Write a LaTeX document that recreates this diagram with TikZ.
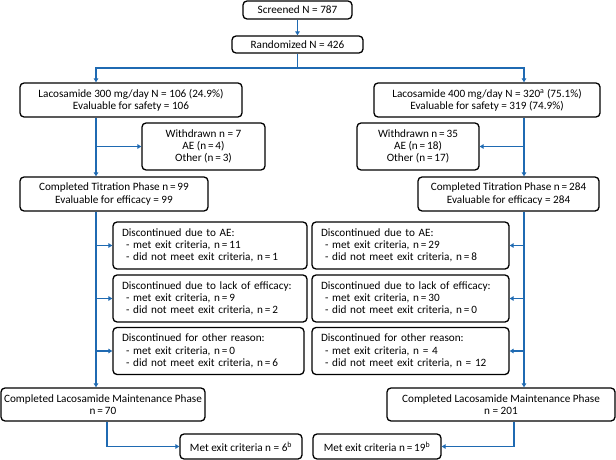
\documentclass[tikz,border=0pt]{standalone}
\usepackage{fontspec}
\setmainfont{Carlito}
\usetikzlibrary{arrows.meta}
\definecolor{flowblue}{RGB}{31,106,178}

\tikzset{
	box/.style={draw, rounded corners=4pt, line width=1.3pt, inner sep=0pt, align=center,
		font=\fontsize{11.2}{12.3}\selectfont},
	listbox/.style={box, align=left, inner xsep=9pt, minimum height=47pt},
	link/.style={draw=flowblue, line width=1.1pt},
	arrowlink/.style={link, -{Triangle[length=4pt,width=4.5pt]}}
}
\newcommand{\dashitem}{\hspace*{4pt}- }

\begin{document}
\begin{tikzpicture}[x=1pt, y=-1pt]
		
		\useasboundingbox (0,0) rectangle (616,460);
		
		% Top boxes
		\node[box, minimum width=109pt, minimum height=18pt] (scr) at (297.5,10) {Screened N = 787};
		\node[box, minimum width=131pt, minimum height=17pt] (rand) at (297.5,44.5) {Randomized N = 426};
		
		% Arms
		\node[box, minimum width=222pt, minimum height=34pt] (l300) at (131,100)
			{Lacosamide 300 mg/day N = 106 (24.9\%)\\Evaluable for safety = 106};
		\node[box, minimum width=226pt, minimum height=34pt] (r400) at (487,100)
			{Lacosamide 400 mg/day N = 320\textsuperscript{a} (75.1\%)\\Evaluable for safety = 319 (74.9\%)};
		
		% Withdrawn
		\node[box, minimum width=123pt, minimum height=47pt] (lwd) at (203.5,146.5)
			{Withdrawn n = 7\\AE (n\,=\,4)\\Other (n\,=\,3)};
		\node[box, minimum width=122pt, minimum height=47pt] (rwd) at (418,146.5)
			{Withdrawn n\,=\,35\\AE (n\,=\,18)\\Other (n\,=\,17)};
		
		% Titration
		\node[box, minimum width=188pt, minimum height=34pt] (ltit) at (114,194)
			{Completed Titration Phase n\,=\,99\\Evaluable for efficacy = 99};
		\node[box, minimum width=181pt, minimum height=34pt] (rtit) at (508.5,194)
			{Completed Titration Phase n\,=\,284\\Evaluable for efficacy = 284};
		
		% Discontinued, left arm
		\node[listbox, text width=176pt] (lae) at (210,245.5)
			{Discontinued due to AE:\\\dashitem met exit criteria, n\,=\,11\\\dashitem did not meet exit criteria, n\,=\,1};
		\node[listbox, text width=176pt] (leff) at (210,298.5)
			{Discontinued due to lack of efficacy:\\\dashitem met exit criteria, n\,=\,9\\\dashitem did not meet exit criteria, n\,=\,2};
		\node[listbox, text width=173pt] (loth) at (208.5,351)
			{Discontinued for other reason:\\\dashitem met exit criteria, n\,=\,0\\\dashitem did not meet exit criteria, n\,=\,6};
		
		% Discontinued, right arm
		\node[listbox, text width=179pt] (rae) at (410.5,245.5)
			{Discontinued due to AE:\\\dashitem met exit criteria, n\,=\,29\\\dashitem did not meet exit criteria, n\,=\,8};
		\node[listbox, text width=179pt] (reff) at (410.5,298.5)
			{Discontinued due to lack of efficacy:\\\dashitem met exit criteria, n\,=\,30\\\dashitem did not meet exit criteria, n\,=\,0};
		\node[listbox, text width=179pt] (roth) at (410.5,351)
			{Discontinued for other reason:\\\dashitem met exit criteria, n = 4\\\dashitem did not meet exit criteria, n = 12};
		
		% Maintenance
		\node[box, minimum width=204pt, minimum height=33pt] (lmain) at (103,404.5)
			{Completed Lacosamide Maintenance Phase\\n\,=\,70};
		\node[box, minimum width=228pt, minimum height=33pt] (rmain) at (501,404.5)
			{Completed Lacosamide Maintenance Phase\\n = 201};
		
		% Exit criteria
		\node[box, minimum width=122pt, minimum height=25pt] (lmet) at (241,446.5)
			{Met exit criteria n = 6\textsuperscript{b}};
		\node[box, minimum width=128pt, minimum height=25pt] (rmet) at (377,446.5)
			{Met exit criteria n\,=\,19\textsuperscript{b}};
		
		% Rails
		\coordinate (split) at (297.5,68);
		\coordinate (lrail) at (96,68);
		\coordinate (rrail) at (524,68);
		\coordinate (lstub) at (107,0);
		\coordinate (rstub) at (514,0);
		
		% Top connectors
		\draw[arrowlink] (scr) -- (rand);
		\draw[link] (rand) -- (split);
		\draw[arrowlink] (split) -| (l300.north -| lrail);
		\draw[arrowlink] (split) -| (r400.north -| rrail);
		
		% Left arm
		\draw[arrowlink] (l300.south -| lrail) -- (ltit.north -| lrail);
		\draw[arrowlink] (lwd.west -| lrail) -- (lwd.west);
		\draw[arrowlink] (ltit.south -| lrail) -- (lmain.north -| lrail);
		\draw[arrowlink] (lae.west -| lrail) -- (lae.west);
		\draw[arrowlink] (leff.west -| lrail) -- (leff.west);
		\draw[arrowlink] (loth.west -| lrail) -- (loth.west);
		\draw[arrowlink] (lmain.south -| lstub) |- (lmet.west);
		
		% Right arm
		\draw[arrowlink] (r400.south -| rrail) -- (rtit.north -| rrail);
		\draw[arrowlink] (rwd.east -| rrail) -- (rwd.east);
		\draw[arrowlink] (rtit.south -| rrail) -- (rmain.north -| rrail);
		\draw[arrowlink] (rae.east -| rrail) -- (rae.east);
		\draw[arrowlink] (reff.east -| rrail) -- (reff.east);
		\draw[arrowlink] (roth.east -| rrail) -- (roth.east);
		\draw[arrowlink] (rmain.south -| rstub) |- (rmet.east);
		
	\end{tikzpicture}
\end{document}
